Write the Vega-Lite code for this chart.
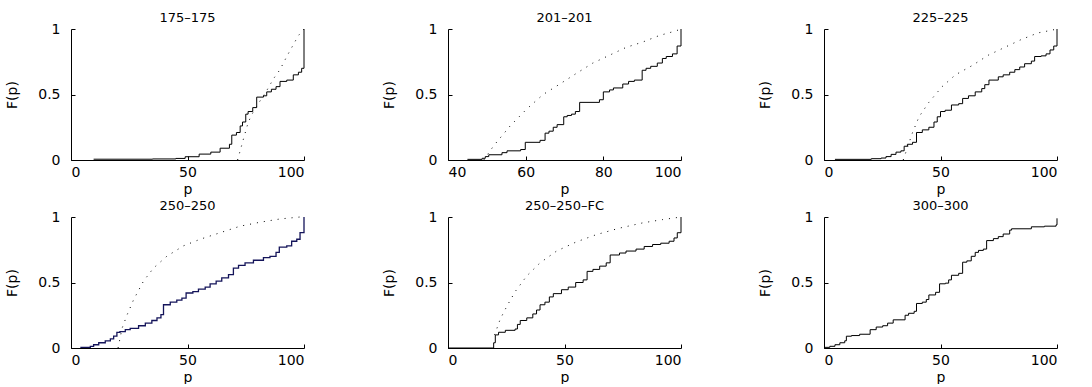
{
  "$schema": "https://vega.github.io/schema/vega-lite/v6.json",
  "padding": {"left": 5, "top": 12, "right": 0, "bottom": 0},
  "background": "white",
  "datasets": {
    "d": [
      {"panel":"175–175","s":"e","p":9.7,"F":0.006},{"panel":"175–175","s":"e","p":35,"F":0.008},{"panel":"175–175","s":"e","p":45,"F":0.012},{"panel":"175–175","s":"e","p":49,"F":0.025},{"panel":"175–175","s":"e","p":55,"F":0.045},{"panel":"175–175","s":"e","p":60,"F":0.06},{"panel":"175–175","s":"e","p":64,"F":0.09},{"panel":"175–175","s":"e","p":68,"F":0.12},{"panel":"175–175","s":"e","p":69,"F":0.19},{"panel":"175–175","s":"e","p":71,"F":0.21},{"panel":"175–175","s":"e","p":72.6,"F":0.26},{"panel":"175–175","s":"e","p":73.6,"F":0.29},{"panel":"175–175","s":"e","p":75,"F":0.35},{"panel":"175–175","s":"e","p":76,"F":0.37},{"panel":"175–175","s":"e","p":78,"F":0.4},{"panel":"175–175","s":"e","p":79.7,"F":0.48},{"panel":"175–175","s":"e","p":82.6,"F":0.49},{"panel":"175–175","s":"e","p":84,"F":0.52},{"panel":"175–175","s":"e","p":86,"F":0.54},{"panel":"175–175","s":"e","p":88,"F":0.56},{"panel":"175–175","s":"e","p":89.7,"F":0.6},{"panel":"175–175","s":"e","p":92.6,"F":0.61},{"panel":"175–175","s":"e","p":95.4,"F":0.65},{"panel":"175–175","s":"e","p":97.6,"F":0.67},{"panel":"175–175","s":"e","p":99,"F":0.7},{"panel":"175–175","s":"e","p":100,"F":1.0},
      {"panel":"175–175","s":"m","p":71.5,"F":0},{"panel":"175–175","s":"m","p":74,"F":0.16},{"panel":"175–175","s":"m","p":76.1,"F":0.29},{"panel":"175–175","s":"m","p":78.3,"F":0.37},{"panel":"175–175","s":"m","p":81.1,"F":0.45},{"panel":"175–175","s":"m","p":84,"F":0.53},{"panel":"175–175","s":"m","p":86.9,"F":0.62},{"panel":"175–175","s":"m","p":89.7,"F":0.69},{"panel":"175–175","s":"m","p":92.6,"F":0.79},{"panel":"175–175","s":"m","p":95.4,"F":0.88},{"panel":"175–175","s":"m","p":97.6,"F":0.95},{"panel":"175–175","s":"m","p":100,"F":1.0},

      {"panel":"201–201","s":"e","p":45,"F":0.005},{"panel":"201–201","s":"e","p":48.8,"F":0.013},{"panel":"201–201","s":"e","p":49.6,"F":0.026},{"panel":"201–201","s":"e","p":50.5,"F":0.04},{"panel":"201–201","s":"e","p":53.9,"F":0.056},{"panel":"201–201","s":"e","p":55.2,"F":0.07},{"panel":"201–201","s":"e","p":58.7,"F":0.08},{"panel":"201–201","s":"e","p":59.9,"F":0.135},{"panel":"201–201","s":"e","p":63.7,"F":0.15},{"panel":"201–201","s":"e","p":65,"F":0.205},{"panel":"201–201","s":"e","p":66,"F":0.22},{"panel":"201–201","s":"e","p":67.1,"F":0.25},{"panel":"201–201","s":"e","p":68.1,"F":0.27},{"panel":"201–201","s":"e","p":69.8,"F":0.33},{"panel":"201–201","s":"e","p":70.7,"F":0.34},{"panel":"201–201","s":"e","p":71.8,"F":0.35},{"panel":"201–201","s":"e","p":72.8,"F":0.37},{"panel":"201–201","s":"e","p":73.9,"F":0.44},{"panel":"201–201","s":"e","p":79,"F":0.46},{"panel":"201–201","s":"e","p":80,"F":0.52},{"panel":"201–201","s":"e","p":81.6,"F":0.535},{"panel":"201–201","s":"e","p":82.6,"F":0.55},{"panel":"201–201","s":"e","p":85,"F":0.58},{"panel":"201–201","s":"e","p":86.5,"F":0.6},{"panel":"201–201","s":"e","p":88,"F":0.61},{"panel":"201–201","s":"e","p":90,"F":0.685},{"panel":"201–201","s":"e","p":91,"F":0.7},{"panel":"201–201","s":"e","p":92.2,"F":0.715},{"panel":"201–201","s":"e","p":93.9,"F":0.74},{"panel":"201–201","s":"e","p":95.2,"F":0.775},{"panel":"201–201","s":"e","p":96.2,"F":0.79},{"panel":"201–201","s":"e","p":97.8,"F":0.81},{"panel":"201–201","s":"e","p":99,"F":0.87},{"panel":"201–201","s":"e","p":100,"F":1.0},
      {"panel":"201–201","s":"m","p":49.2,"F":0},{"panel":"201–201","s":"m","p":51.8,"F":0.11},{"panel":"201–201","s":"m","p":56,"F":0.26},{"panel":"201–201","s":"m","p":60.3,"F":0.39},{"panel":"201–201","s":"m","p":64.5,"F":0.5},{"panel":"201–201","s":"m","p":68.8,"F":0.58},{"panel":"201–201","s":"m","p":73,"F":0.66},{"panel":"201–201","s":"m","p":77.3,"F":0.74},{"panel":"201–201","s":"m","p":81.6,"F":0.8},{"panel":"201–201","s":"m","p":85.9,"F":0.86},{"panel":"201–201","s":"m","p":90.1,"F":0.9},{"panel":"201–201","s":"m","p":94.4,"F":0.95},{"panel":"201–201","s":"m","p":98.6,"F":0.985},{"panel":"201–201","s":"m","p":100,"F":1.0},

      {"panel":"225–225","s":"e","p":4.7,"F":0.005},{"panel":"225–225","s":"e","p":20.3,"F":0.01},{"panel":"225–225","s":"e","p":24.5,"F":0.015},{"panel":"225–225","s":"e","p":26.6,"F":0.026},{"panel":"225–225","s":"e","p":28.8,"F":0.043},{"panel":"225–225","s":"e","p":30.9,"F":0.06},{"panel":"225–225","s":"e","p":33,"F":0.07},{"panel":"225–225","s":"e","p":34.4,"F":0.105},{"panel":"225–225","s":"e","p":35.8,"F":0.12},{"panel":"225–225","s":"e","p":38,"F":0.135},{"panel":"225–225","s":"e","p":39.7,"F":0.21},{"panel":"225–225","s":"e","p":42.2,"F":0.23},{"panel":"225–225","s":"e","p":45,"F":0.25},{"panel":"225–225","s":"e","p":47.2,"F":0.29},{"panel":"225–225","s":"e","p":48.6,"F":0.33},{"panel":"225–225","s":"e","p":50,"F":0.37},{"panel":"225–225","s":"e","p":52,"F":0.38},{"panel":"225–225","s":"e","p":54.7,"F":0.42},{"panel":"225–225","s":"e","p":57.8,"F":0.43},{"panel":"225–225","s":"e","p":59.5,"F":0.47},{"panel":"225–225","s":"e","p":62,"F":0.49},{"panel":"225–225","s":"e","p":64.9,"F":0.52},{"panel":"225–225","s":"e","p":67.7,"F":0.545},{"panel":"225–225","s":"e","p":69,"F":0.575},{"panel":"225–225","s":"e","p":70.8,"F":0.61},{"panel":"225–225","s":"e","p":74.8,"F":0.635},{"panel":"225–225","s":"e","p":76.9,"F":0.65},{"panel":"225–225","s":"e","p":79.7,"F":0.67},{"panel":"225–225","s":"e","p":81.9,"F":0.69},{"panel":"225–225","s":"e","p":84,"F":0.71},{"panel":"225–225","s":"e","p":86.1,"F":0.735},{"panel":"225–225","s":"e","p":89,"F":0.755},{"panel":"225–225","s":"e","p":90.4,"F":0.79},{"panel":"225–225","s":"e","p":93.2,"F":0.795},{"panel":"225–225","s":"e","p":95.3,"F":0.81},{"panel":"225–225","s":"e","p":97,"F":0.84},{"panel":"225–225","s":"e","p":98.6,"F":0.87},{"panel":"225–225","s":"e","p":100,"F":1.0},
      {"panel":"225–225","s":"m","p":34,"F":0},{"panel":"225–225","s":"m","p":38,"F":0.21},{"panel":"225–225","s":"m","p":40.8,"F":0.33},{"panel":"225–225","s":"m","p":45,"F":0.44},{"panel":"225–225","s":"m","p":50.7,"F":0.56},{"panel":"225–225","s":"m","p":56.4,"F":0.65},{"panel":"225–225","s":"m","p":63.5,"F":0.72},{"panel":"225–225","s":"m","p":70.5,"F":0.8},{"panel":"225–225","s":"m","p":77.6,"F":0.86},{"panel":"225–225","s":"m","p":84.7,"F":0.92},{"panel":"225–225","s":"m","p":91.8,"F":0.97},{"panel":"225–225","s":"m","p":97.5,"F":0.99},{"panel":"225–225","s":"m","p":100,"F":1.0},

      {"panel":"250–250","s":"e","p":4,"F":0.005},{"panel":"250–250","s":"e","p":8.3,"F":0.013},{"panel":"250–250","s":"e","p":9.7,"F":0.025},{"panel":"250–250","s":"e","p":11.9,"F":0.04},{"panel":"250–250","s":"e","p":14.7,"F":0.055},{"panel":"250–250","s":"e","p":16.9,"F":0.07},{"panel":"250–250","s":"e","p":18.3,"F":0.09},{"panel":"250–250","s":"e","p":19.7,"F":0.12},{"panel":"250–250","s":"e","p":21,"F":0.125},{"panel":"250–250","s":"e","p":23.3,"F":0.14},{"panel":"250–250","s":"e","p":25.4,"F":0.15},{"panel":"250–250","s":"e","p":29,"F":0.17},{"panel":"250–250","s":"e","p":31.9,"F":0.19},{"panel":"250–250","s":"e","p":34.7,"F":0.21},{"panel":"250–250","s":"e","p":36.9,"F":0.23},{"panel":"250–250","s":"e","p":38.6,"F":0.255},{"panel":"250–250","s":"e","p":39.7,"F":0.33},{"panel":"250–250","s":"e","p":42.6,"F":0.35},{"panel":"250–250","s":"e","p":45.4,"F":0.365},{"panel":"250–250","s":"e","p":47.6,"F":0.38},{"panel":"250–250","s":"e","p":49.4,"F":0.42},{"panel":"250–250","s":"e","p":52.3,"F":0.43},{"panel":"250–250","s":"e","p":54.7,"F":0.45},{"panel":"250–250","s":"e","p":57.6,"F":0.465},{"panel":"250–250","s":"e","p":59.7,"F":0.49},{"panel":"250–250","s":"e","p":62.3,"F":0.51},{"panel":"250–250","s":"e","p":64.7,"F":0.535},{"panel":"250–250","s":"e","p":67.6,"F":0.56},{"panel":"250–250","s":"e","p":69.7,"F":0.61},{"panel":"250–250","s":"e","p":71.9,"F":0.63},{"panel":"250–250","s":"e","p":74.7,"F":0.65},{"panel":"250–250","s":"e","p":78.3,"F":0.67},{"panel":"250–250","s":"e","p":82.6,"F":0.69},{"panel":"250–250","s":"e","p":85.4,"F":0.7},{"panel":"250–250","s":"e","p":88,"F":0.73},{"panel":"250–250","s":"e","p":89.4,"F":0.77},{"panel":"250–250","s":"e","p":92.6,"F":0.78},{"panel":"250–250","s":"e","p":94.7,"F":0.815},{"panel":"250–250","s":"e","p":96.9,"F":0.83},{"panel":"250–250","s":"e","p":98.3,"F":0.88},{"panel":"250–250","s":"e","p":100,"F":1.0},
      {"panel":"250–250","s":"m","p":20.2,"F":0},{"panel":"250–250","s":"m","p":21.9,"F":0.15},{"panel":"250–250","s":"m","p":24,"F":0.25},{"panel":"250–250","s":"m","p":26.9,"F":0.37},{"panel":"250–250","s":"m","p":31.1,"F":0.51},{"panel":"250–250","s":"m","p":35.4,"F":0.61},{"panel":"250–250","s":"m","p":41.1,"F":0.7},{"panel":"250–250","s":"m","p":48.3,"F":0.78},{"panel":"250–250","s":"m","p":55.4,"F":0.83},{"panel":"250–250","s":"m","p":64,"F":0.88},{"panel":"250–250","s":"m","p":72.6,"F":0.93},{"panel":"250–250","s":"m","p":81.1,"F":0.96},{"panel":"250–250","s":"m","p":89.7,"F":0.985},{"panel":"250–250","s":"m","p":98.3,"F":1.0},{"panel":"250–250","s":"m","p":100,"F":1.0},

      {"panel":"250–250–FC","s":"e","p":0,"F":0},{"panel":"250–250–FC","s":"e","p":19.6,"F":0.04},{"panel":"250–250–FC","s":"e","p":20.3,"F":0.1},{"panel":"250–250–FC","s":"e","p":21.7,"F":0.12},{"panel":"250–250–FC","s":"e","p":24.6,"F":0.135},{"panel":"250–250–FC","s":"e","p":28.8,"F":0.145},{"panel":"250–250–FC","s":"e","p":29.8,"F":0.18},{"panel":"250–250–FC","s":"e","p":31,"F":0.21},{"panel":"250–250–FC","s":"e","p":33.8,"F":0.23},{"panel":"250–250–FC","s":"e","p":36.4,"F":0.26},{"panel":"250–250–FC","s":"e","p":38,"F":0.29},{"panel":"250–250–FC","s":"e","p":39.5,"F":0.33},{"panel":"250–250–FC","s":"e","p":41.6,"F":0.35},{"panel":"250–250–FC","s":"e","p":43.5,"F":0.39},{"panel":"250–250–FC","s":"e","p":45.2,"F":0.415},{"panel":"250–250–FC","s":"e","p":48.7,"F":0.445},{"panel":"250–250–FC","s":"e","p":51.6,"F":0.465},{"panel":"250–250–FC","s":"e","p":54.8,"F":0.5},{"panel":"250–250–FC","s":"e","p":58,"F":0.52},{"panel":"250–250–FC","s":"e","p":59.7,"F":0.585},{"panel":"250–250–FC","s":"e","p":62.2,"F":0.6},{"panel":"250–250–FC","s":"e","p":65.1,"F":0.625},{"panel":"250–250–FC","s":"e","p":67.9,"F":0.65},{"panel":"250–250–FC","s":"e","p":69.6,"F":0.71},{"panel":"250–250–FC","s":"e","p":73.6,"F":0.725},{"panel":"250–250–FC","s":"e","p":76.4,"F":0.74},{"panel":"250–250–FC","s":"e","p":80.7,"F":0.755},{"panel":"250–250–FC","s":"e","p":84.2,"F":0.775},{"panel":"250–250–FC","s":"e","p":87.8,"F":0.79},{"panel":"250–250–FC","s":"e","p":91.3,"F":0.8},{"panel":"250–250–FC","s":"e","p":94.9,"F":0.815},{"panel":"250–250–FC","s":"e","p":97,"F":0.84},{"panel":"250–250–FC","s":"e","p":98.4,"F":0.88},{"panel":"250–250–FC","s":"e","p":100,"F":1.0},
      {"panel":"250–250–FC","s":"m","p":20,"F":0.1},{"panel":"250–250–FC","s":"m","p":22.4,"F":0.22},{"panel":"250–250–FC","s":"m","p":25.3,"F":0.32},{"panel":"250–250–FC","s":"m","p":28.8,"F":0.43},{"panel":"250–250–FC","s":"m","p":33.8,"F":0.55},{"panel":"250–250–FC","s":"m","p":39.5,"F":0.65},{"panel":"250–250–FC","s":"m","p":46.6,"F":0.74},{"panel":"250–250–FC","s":"m","p":55.1,"F":0.81},{"panel":"250–250–FC","s":"m","p":63.6,"F":0.865},{"panel":"250–250–FC","s":"m","p":73.6,"F":0.915},{"panel":"250–250–FC","s":"m","p":83.5,"F":0.955},{"panel":"250–250–FC","s":"m","p":92,"F":0.98},{"panel":"250–250–FC","s":"m","p":100,"F":1.0},

      {"panel":"300–300","s":"e","p":0.4,"F":0.005},{"panel":"300–300","s":"e","p":2.5,"F":0.013},{"panel":"300–300","s":"e","p":4.7,"F":0.025},{"panel":"300–300","s":"e","p":6.8,"F":0.04},{"panel":"300–300","s":"e","p":8.9,"F":0.055},{"panel":"300–300","s":"e","p":9.6,"F":0.09},{"panel":"300–300","s":"e","p":11.8,"F":0.095},{"panel":"300–300","s":"e","p":15.3,"F":0.105},{"panel":"300–300","s":"e","p":19.8,"F":0.14},{"panel":"300–300","s":"e","p":22.4,"F":0.16},{"panel":"300–300","s":"e","p":25.2,"F":0.17},{"panel":"300–300","s":"e","p":27.3,"F":0.19},{"panel":"300–300","s":"e","p":29.7,"F":0.215},{"panel":"300–300","s":"e","p":34.8,"F":0.25},{"panel":"300–300","s":"e","p":36.3,"F":0.265},{"panel":"300–300","s":"e","p":38.7,"F":0.28},{"panel":"300–300","s":"e","p":39.7,"F":0.34},{"panel":"300–300","s":"e","p":42.2,"F":0.35},{"panel":"300–300","s":"e","p":43.9,"F":0.37},{"panel":"300–300","s":"e","p":45,"F":0.405},{"panel":"300–300","s":"e","p":47.9,"F":0.425},{"panel":"300–300","s":"e","p":49.6,"F":0.49},{"panel":"300–300","s":"e","p":52.1,"F":0.495},{"panel":"300–300","s":"e","p":53.5,"F":0.52},{"panel":"300–300","s":"e","p":54.7,"F":0.555},{"panel":"300–300","s":"e","p":57.8,"F":0.57},{"panel":"300–300","s":"e","p":59.5,"F":0.655},{"panel":"300–300","s":"e","p":61.3,"F":0.665},{"panel":"300–300","s":"e","p":63.2,"F":0.7},{"panel":"300–300","s":"e","p":64.9,"F":0.73},{"panel":"300–300","s":"e","p":66.3,"F":0.745},{"panel":"300–300","s":"e","p":68.4,"F":0.755},{"panel":"300–300","s":"e","p":69.8,"F":0.82},{"panel":"300–300","s":"e","p":72.7,"F":0.835},{"panel":"300–300","s":"e","p":74.8,"F":0.85},{"panel":"300–300","s":"e","p":76.9,"F":0.87},{"panel":"300–300","s":"e","p":79.7,"F":0.9},{"panel":"300–300","s":"e","p":80.5,"F":0.91},{"panel":"300–300","s":"e","p":89,"F":0.925},{"panel":"300–300","s":"e","p":94.6,"F":0.93},{"panel":"300–300","s":"e","p":99.6,"F":0.94},{"panel":"300–300","s":"e","p":100,"F":0.99}
    ]
  },
  "data": {"name": "d"},
  "columns": 3,
  "spacing": {"column": 75, "row": 4},
  "concat": [
    {"title": "175–175", "width": 233, "height": 131, "transform": [{"filter": "datum.panel == '175–175'"}],
     "layer": [
      {"transform": [{"filter": "datum.s == 'e'"}], "mark": {"type": "line", "interpolate": "step-after", "color": "black", "strokeWidth": 1},
       "encoding": {"x": {"field": "p", "type": "quantitative", "title": "p", "scale": {"domain": [0, 100], "nice": false}, "axis": {"values": [0, 50, 100]}},
                    "y": {"field": "F", "type": "quantitative", "title": "F(p)", "scale": {"domain": [0, 1], "nice": false}, "axis": {"values": [0, 0.5, 1], "format": ".1~f"}}}},
      {"transform": [{"filter": "datum.s == 'm'"}], "mark": {"type": "line", "color": "black", "strokeWidth": 1, "strokeDash": [1, 6]},
       "encoding": {"x": {"field": "p", "type": "quantitative"}, "y": {"field": "F", "type": "quantitative"}}}
     ]},
    {"title": "201–201", "width": 233, "height": 131, "transform": [{"filter": "datum.panel == '201–201'"}],
     "layer": [
      {"transform": [{"filter": "datum.s == 'e'"}], "mark": {"type": "line", "interpolate": "step-after", "color": "black", "strokeWidth": 1},
       "encoding": {"x": {"field": "p", "type": "quantitative", "title": "p", "scale": {"domain": [40, 100], "nice": false}, "axis": {"values": [40, 60, 80, 100]}},
                    "y": {"field": "F", "type": "quantitative", "title": "F(p)", "scale": {"domain": [0, 1], "nice": false}, "axis": {"values": [0, 0.5, 1], "format": ".1~f"}}}},
      {"transform": [{"filter": "datum.s == 'm'"}], "mark": {"type": "line", "color": "black", "strokeWidth": 1, "strokeDash": [1, 6]},
       "encoding": {"x": {"field": "p", "type": "quantitative"}, "y": {"field": "F", "type": "quantitative"}}}
     ]},
    {"title": "225–225", "width": 233, "height": 131, "transform": [{"filter": "datum.panel == '225–225'"}],
     "layer": [
      {"transform": [{"filter": "datum.s == 'e'"}], "mark": {"type": "line", "interpolate": "step-after", "color": "black", "strokeWidth": 1},
       "encoding": {"x": {"field": "p", "type": "quantitative", "title": "p", "scale": {"domain": [0, 100], "nice": false}, "axis": {"values": [0, 50, 100]}},
                    "y": {"field": "F", "type": "quantitative", "title": "F(p)", "scale": {"domain": [0, 1], "nice": false}, "axis": {"values": [0, 0.5, 1], "format": ".1~f"}}}},
      {"transform": [{"filter": "datum.s == 'm'"}], "mark": {"type": "line", "color": "black", "strokeWidth": 1, "strokeDash": [1, 6]},
       "encoding": {"x": {"field": "p", "type": "quantitative"}, "y": {"field": "F", "type": "quantitative"}}}
     ]},
    {"title": "250–250", "width": 233, "height": 131, "transform": [{"filter": "datum.panel == '250–250'"}],
     "layer": [
      {"transform": [{"filter": "datum.s == 'e'"}], "mark": {"type": "line", "interpolate": "step-after", "color": "#14145a", "strokeWidth": 1.3},
       "encoding": {"x": {"field": "p", "type": "quantitative", "title": "p", "scale": {"domain": [0, 100], "nice": false}, "axis": {"values": [0, 50, 100]}},
                    "y": {"field": "F", "type": "quantitative", "title": "F(p)", "scale": {"domain": [0, 1], "nice": false}, "axis": {"values": [0, 0.5, 1], "format": ".1~f"}}}},
      {"transform": [{"filter": "datum.s == 'm'"}], "mark": {"type": "line", "color": "black", "strokeWidth": 1, "strokeDash": [1, 6]},
       "encoding": {"x": {"field": "p", "type": "quantitative"}, "y": {"field": "F", "type": "quantitative"}}}
     ]},
    {"title": "250–250–FC", "width": 233, "height": 131, "transform": [{"filter": "datum.panel == '250–250–FC'"}],
     "layer": [
      {"transform": [{"filter": "datum.s == 'e'"}], "mark": {"type": "line", "interpolate": "step-after", "color": "black", "strokeWidth": 1},
       "encoding": {"x": {"field": "p", "type": "quantitative", "title": "p", "scale": {"domain": [0, 100], "nice": false}, "axis": {"values": [0, 50, 100]}},
                    "y": {"field": "F", "type": "quantitative", "title": "F(p)", "scale": {"domain": [0, 1], "nice": false}, "axis": {"values": [0, 0.5, 1], "format": ".1~f"}}}},
      {"transform": [{"filter": "datum.s == 'm'"}], "mark": {"type": "line", "color": "black", "strokeWidth": 1, "strokeDash": [1, 6]},
       "encoding": {"x": {"field": "p", "type": "quantitative"}, "y": {"field": "F", "type": "quantitative"}}}
     ]},
    {"title": "300–300", "width": 233, "height": 131, "transform": [{"filter": "datum.panel == '300–300'"}],
     "layer": [
      {"transform": [{"filter": "datum.s == 'e'"}], "mark": {"type": "line", "interpolate": "step-after", "color": "black", "strokeWidth": 1},
       "encoding": {"x": {"field": "p", "type": "quantitative", "title": "p", "scale": {"domain": [0, 100], "nice": false}, "axis": {"values": [0, 50, 100]}},
                    "y": {"field": "F", "type": "quantitative", "title": "F(p)", "scale": {"domain": [0, 1], "nice": false}, "axis": {"values": [0, 0.5, 1], "format": ".1~f"}}}}
     ]}
  ],
  "config": {
    "view": {"stroke": null},
    "axis": {"grid": false, "domainColor": "black", "tickColor": "black", "labelColor": "black", "titleColor": "black",
             "labelFont": "DejaVu Sans", "titleFont": "DejaVu Sans", "labelFontSize": 14, "titleFontSize": 14,
             "titleFontWeight": "normal", "tickSize": -4, "domainWidth": 1, "tickWidth": 1},
    "axisX": {"labelPadding": 9, "titlePadding": 3},
    "axisY": {"labelPadding": 15, "titlePadding": 18},
    "title": {"font": "DejaVu Sans", "fontSize": 13, "fontWeight": "normal", "color": "black", "offset": -3, "anchor": "middle"}
  }
}
